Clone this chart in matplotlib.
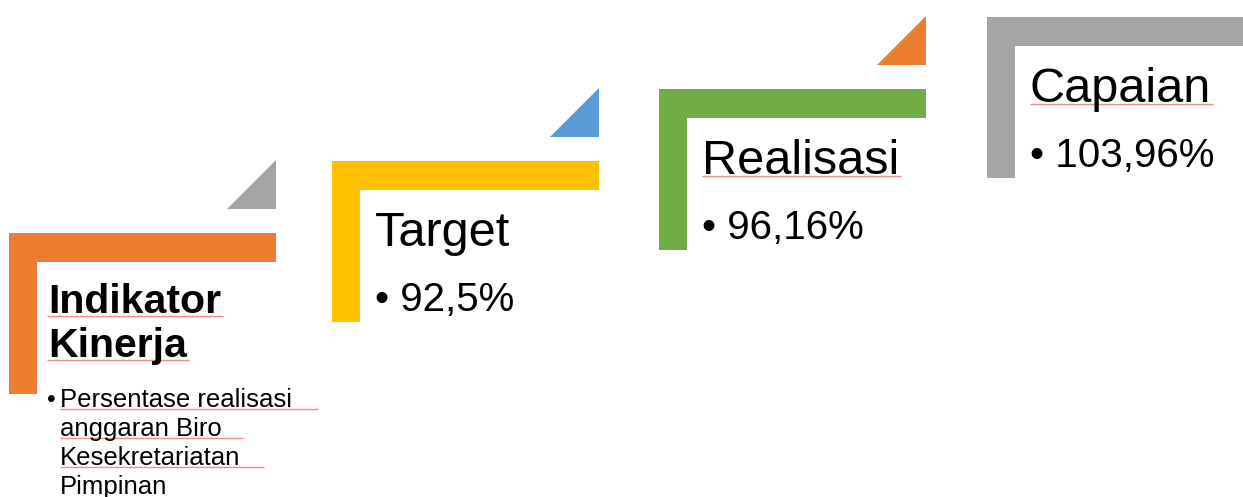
import matplotlib.pyplot as plt
from matplotlib.patches import Polygon, Rectangle

plt.rcParams['font.family'] = ['Liberation Sans', 'DejaVu Sans']

titles = ['Indikator\nKinerja', 'Target', 'Realisasi', 'Capaian']
values = [None, '92,5%', '96,16%', '103,96%']
indicator_lines = ['Persentase realisasi', 'anggaran Biro', 'Kesekretariatan', 'Pimpinan']
bar_colors = ['#ED7D31', '#FFC000', '#70AD47', '#A5A5A5']
tri_colors = ['#A5A5A5', '#5B9BD5', '#ED7D31', '#FFC000']

W, H = 1243, 497
fig = plt.figure(figsize=(W / 100, H / 100), dpi=100)
ax = fig.add_axes([0, 0, 1, 1])
ax.set_xlim(0, W)
ax.set_ylim(H, 0)
ax.axis('off')

# layout of the staircase
block_x = [9, 332, 659, 987]
step_y = 72
bw, th, vh = 267, 29, 161
squig = '#F28C8C'


def underline(x1, x2, y):
    ax.plot([x1, x2], [y + 0.5, y + 0.5], color=squig, lw=1.0, solid_capstyle='butt')


def text_span(t):
    fig.canvas.draw()
    bb = t.get_window_extent().transformed(ax.transData.inverted())
    return bb.x0, bb.x1


for i, (title, val) in enumerate(zip(titles, values)):
    x0 = block_x[i]
    y0 = 233 - i * step_y
    # L-shaped bracket
    ax.add_patch(Rectangle((x0, y0), bw, th, color=bar_colors[i], lw=0))
    ax.add_patch(Rectangle((x0, y0), 28, vh, color=bar_colors[i], lw=0))
    # corner triangle
    ax.add_patch(Polygon([(x0 + 218, y0 - 24), (x0 + bw, y0 - 24), (x0 + bw, y0 - 73)],
                         closed=True, color=tri_colors[i], lw=0))
    if i == 0:
        for k, word in enumerate(title.split('\n')):
            yb = y0 + 80 + k * 44
            t = ax.text(x0 + 39, yb, word, fontsize=29.5, fontweight='bold', va='baseline')
            a, b = text_span(t)
            underline(a - 1, b + 2, yb + 2)
        ax.text(x0 + 38, y0 + 174, '•', fontsize=18, va='baseline')
        ends = [318, 243, 264]
        for k, line in enumerate(indicator_lines):
            yb = y0 + 174 + k * 29
            ax.text(x0 + 51, yb, line, fontsize=18.5, va='baseline')
            if k < len(ends):
                underline(x0 + 51, ends[k], yb + 1)
    else:
        t = ax.text(x0 + 43, y0 + 85, title, fontsize=35, va='baseline')
        ax.text(x0 + 43, y0 + 150, '• ' + val, fontsize=29, va='baseline')
        if title != 'Target':
            a, b = text_span(t)
            underline(a, b + 2, y0 + 86)

fig.savefig('out.png', dpi=100)
